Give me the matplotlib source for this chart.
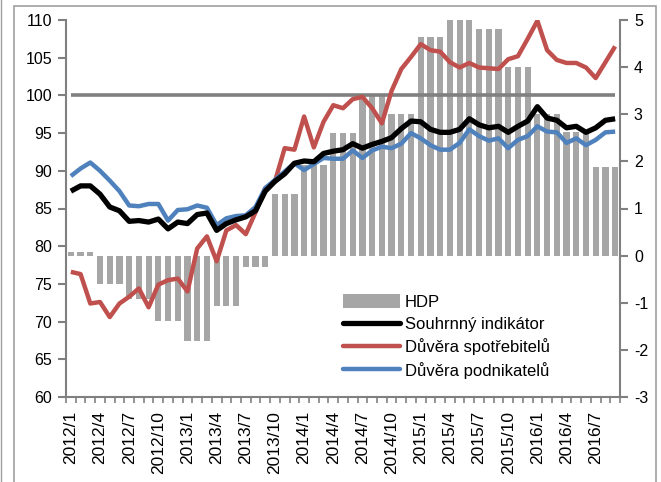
import numpy as np
import matplotlib
matplotlib.use("Agg")
import matplotlib.pyplot as plt
from matplotlib.patches import Patch, Rectangle
from matplotlib.lines import Line2D

plt.rcParams['font.family'] = ['Liberation Sans', 'DejaVu Sans']
plt.rcParams['axes.unicode_minus'] = False

# ---- data ----
months = [f"{y}/{m}" for y in range(2012, 2017) for m in range(1, 13)][:57]

hdp_quarterly = [0.07, -0.61, -0.91, -1.39, -1.81, -1.07, -0.24, 1.31, 1.92, 2.60,
                 3.40, 3.00, 4.63, 5.00, 4.80, 4.00, 3.00, 2.62, 1.89]

souhrnny = [87.3, 88.0, 88.0, 86.9, 85.2, 84.7, 83.3, 83.4, 83.2, 83.6,
            82.3, 83.2, 83.0, 84.2, 84.4, 82.1, 83.0, 83.5, 83.9, 84.7,
            87.3, 88.6, 89.6, 91.0, 91.3, 91.2, 92.3, 92.6, 92.8, 93.6,
            93.0, 93.5, 93.9, 94.4, 95.6, 96.6, 96.5, 95.5, 95.1, 95.1,
            95.5, 96.9, 96.1, 95.7, 95.9, 95.1, 95.9, 96.6, 98.5, 97.0,
            96.7, 95.7, 95.9, 95.1, 95.7, 96.7, 96.9]

spotrebitele = [76.6, 76.3, 72.4, 72.6, 70.6, 72.4, 73.3, 74.4, 71.9, 74.9,
                75.5, 75.7, 74.0, 79.7, 81.3, 78.0, 82.1, 82.8, 81.6, 84.5,
                87.7, 88.6, 93.0, 92.8, 97.2, 93.1, 96.5, 98.7, 98.3, 99.5,
                99.8, 98.3, 96.3, 100.6, 103.5, 105.1, 106.8, 106.0, 105.8, 104.4,
                103.7, 104.3, 103.7, 103.6, 103.5, 104.8, 105.2, 107.5, 109.9, 106.0,
                104.7, 104.3, 104.3, 103.7, 102.3, 104.4, 106.5]

podnikatele = [89.3, 90.3, 91.1, 90.0, 88.7, 87.3, 85.4, 85.3, 85.6, 85.6,
               83.4, 84.8, 84.9, 85.4, 85.1, 82.8, 83.7, 84.0, 84.1, 85.2,
               87.7, 88.8, 89.9, 91.0, 90.1, 90.9, 91.7, 91.6, 91.6, 92.7,
               91.7, 92.7, 93.2, 93.0, 93.6, 95.0, 94.3, 93.4, 92.8, 92.8,
               93.7, 95.5, 94.6, 94.0, 94.3, 93.0, 94.1, 94.6, 95.9, 95.2,
               95.1, 93.7, 94.3, 93.4, 94.1, 95.1, 95.2]

reference_level = 100

hdp_monthly = np.repeat(hdp_quarterly, 3)[:len(months)]
x = np.arange(len(months))

# ---- figure ----
fig = plt.figure(figsize=(6.61, 4.82), dpi=100)
ax = fig.add_axes([66/661, 1-397/482, (620-66)/661, (397-20)/482])
ax2 = ax.twinx()

grey = '#808080'
bar_col = '#A6A6A6'
red = '#C0504D'
blue = '#4F81BD'

ax2.bar(x, hdp_monthly, width=0.64, color=bar_col, zorder=1)
ax2.set_ylim(-3, 5)
ax2.set_yticks(range(-3, 6))

ax.hlines(reference_level, x[0], x[-1], color=grey, lw=2.6, zorder=2)
ax.plot(x, souhrnny, color='black', lw=3.8, zorder=4, solid_capstyle='butt')
ax.plot(x, spotrebitele, color=red, lw=3.2, zorder=3, solid_capstyle='butt')
ax.plot(x, podnikatele, color=blue, lw=3.2, zorder=3, solid_capstyle='butt')
ax.set_ylim(60, 110)
ax.set_yticks(range(60, 111, 5))
ax.set_xlim(-0.5, len(months) - 0.5)

ax.set_zorder(ax2.get_zorder() + 1)
ax.patch.set_visible(False)

for a in (ax, ax2):
    a.spines['top'].set_visible(False)
    for s in ('left', 'right', 'bottom'):
        a.spines[s].set_color(grey)
        a.spines[s].set_linewidth(1.5)
ax.spines['right'].set_visible(False)
ax2.spines['left'].set_visible(False)
ax2.spines['bottom'].set_visible(False)

ax.tick_params(axis='y', direction='out', length=6, width=1.5, color=grey,
               labelsize=11.5, pad=4)
ax2.tick_params(axis='y', direction='out', length=6, width=1.5, color=grey,
                labelsize=11.5, pad=4)

ax.set_xticks(x[::3])
ax.set_xticklabels(months[::3], rotation=90, fontsize=12.5)
ax.tick_params(axis='x', which='major', length=0, pad=10)
ax.set_xticks(np.arange(len(months) + 1) - 0.5, minor=True)
ax.tick_params(axis='x', which='minor', direction='out', length=4, width=1.2, color=grey)

handles = [Patch(facecolor=bar_col, edgecolor='none'),
           Line2D([], [], color='black', lw=3.8, solid_capstyle='round'),
           Line2D([], [], color=red, lw=3.2, solid_capstyle='round'),
           Line2D([], [], color=blue, lw=3.2, solid_capstyle='round')]
labels = ['HDP', 'Souhrnný indikátor', 'Důvěra spotřebitelů', 'Důvěra podnikatelů']
leg = ax.legend(handles, labels, loc='upper left', bbox_to_anchor=(0.5, 0.272),
                frameon=False, fontsize=12, handlelength=3.4, handleheight=0.9,
                handletextpad=0.3, labelspacing=0.38, borderpad=0, borderaxespad=0)

# outer frame of the original chart area
fig.patches.append(Rectangle((14/661, -0.1), (656-14)/661, 1.1 - 6/482,
                             transform=fig.transFigure, fill=False,
                             edgecolor='#A0A0A0', lw=1.2))
fig.add_artist(Line2D([1/661, 1/661], [0, 1], transform=fig.transFigure,
                      color='#A0A0A0', lw=1.0))

fig.savefig('out.png', dpi=100)
